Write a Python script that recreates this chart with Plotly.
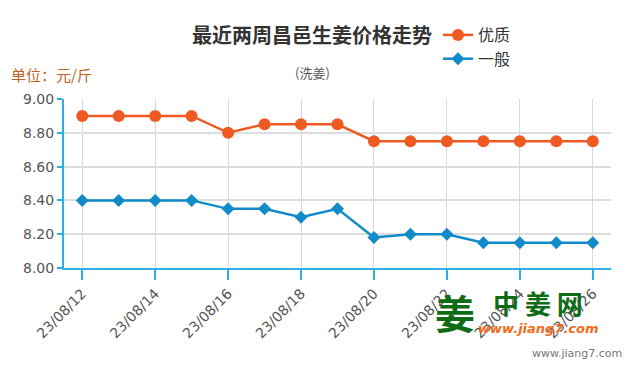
import plotly.graph_objects as go

dates = ["23/08/12", "23/08/13", "23/08/14", "23/08/15", "23/08/16", "23/08/17", "23/08/18",
         "23/08/19", "23/08/20", "23/08/21", "23/08/22", "23/08/23", "23/08/24", "23/08/25", "23/08/26"]
premium = [8.90, 8.90, 8.90, 8.90, 8.80, 8.85, 8.85, 8.85, 8.75, 8.75, 8.75, 8.75, 8.75, 8.75, 8.75]
normal = [8.40, 8.40, 8.40, 8.40, 8.35, 8.35, 8.30, 8.35, 8.18, 8.20, 8.20, 8.15, 8.15, 8.15, 8.15]
y_ticks = [8.0, 8.2, 8.4, 8.6, 8.8, 9.0]

idx = list(range(len(dates)))
tick_idx = idx[::2]
tick_txt = dates[::2]

ORANGE = "#ee5a22"
BLUE = "#128bc8"
AXIS = "#2eb0e4"
FONT = "Noto Sans CJK SC"

L, R, T, B = 64, 611, 99, 268
W, H = R - L, B - T


def px(x):
    return (x - L) / W


def py(y):
    return (B - y) / H


fig = go.Figure()
fig.add_trace(go.Scatter(x=idx, y=premium, name="优质", mode="lines+markers",
                         line=dict(color=ORANGE, width=2.5),
                         marker=dict(symbol="circle", size=12, color=ORANGE)))
fig.add_trace(go.Scatter(x=idx, y=normal, name="一般", mode="lines+markers",
                         line=dict(color=BLUE, width=2.5),
                         marker=dict(symbol="diamond", size=10, color=BLUE)))

fig.update_layout(
    width=635, height=375,
    margin=dict(l=L, r=635 - R, t=T, b=375 - B, autoexpand=False),
    paper_bgcolor="white", plot_bgcolor="white",
    font=dict(family=FONT, color="#555555"),
    showlegend=True,
    legend=dict(x=px(438), y=py(18), xanchor="left", yanchor="top",
                font=dict(size=16, color="#333333", family=FONT),
                bgcolor="rgba(0,0,0,0)", itemwidth=30, tracegroupgap=0),
    xaxis=dict(range=[-0.5, 14.5], tickmode="array", tickvals=tick_idx, ticktext=tick_txt,
               tickangle=-45, showgrid=True, gridcolor="#d9d9d9", gridwidth=1,
               showline=True, linecolor=AXIS, linewidth=2,
               ticks="outside", ticklen=10, tickcolor=AXIS, tickwidth=1.5,
               tickfont=dict(size=14, color="#555555", family="DejaVu Sans"), zeroline=False),
    yaxis=dict(range=[8.0, 9.0], tickmode="array", tickvals=y_ticks,
               ticktext=[f"{v:.2f}" for v in y_ticks],
               showgrid=True, gridcolor="#dddddd", gridwidth=1.5,
               showline=True, linecolor=AXIS, linewidth=2,
               ticks="outside", ticklen=5, tickcolor=AXIS, tickwidth=1.5,
               tickfont=dict(size=14, color="#555555", family="DejaVu Sans"), zeroline=False),
    annotations=[
        dict(text="<b>最近两周昌邑生姜价格走势</b>", xref="paper", yref="paper",
             x=px(312), y=py(34), xanchor="center", yanchor="middle",
             showarrow=False, font=dict(size=20, color="#333333", family=FONT)),
        dict(text="(洗姜)", xref="paper", yref="paper",
             x=px(312), y=py(72), xanchor="center", yanchor="middle",
             showarrow=False, font=dict(size=13, color="#555555", family=FONT)),
        dict(text="单位：元/斤", xref="paper", yref="paper",
             x=px(9), y=py(75), xanchor="left", yanchor="middle",
             showarrow=False, font=dict(size=15, color="#c0601f", family=FONT)),
        dict(text="<b>姜</b>", xref="paper", yref="paper",
             x=px(455), y=py(312), xanchor="center", yanchor="middle",
             showarrow=False, font=dict(size=40, color="#0e6b16", family=FONT)),
        dict(text="<b>中 姜 网</b>", xref="paper", yref="paper",
             x=px(538), y=py(302), xanchor="center", yanchor="middle",
             showarrow=False, font=dict(size=26, color="#0e6b16", family=FONT), borderpad=0),
        dict(text="<i><b>www.jiang7.com</b></i>", xref="paper", yref="paper",
             x=px(538), y=py(328), xanchor="center", yanchor="middle",
             showarrow=False, font=dict(size=13, color="#f06a1a", family="DejaVu Sans"), borderpad=0),
        dict(text="www.jiang7.com", xref="paper", yref="paper",
             x=px(624), y=py(353), xanchor="right", yanchor="middle",
             showarrow=False, font=dict(size=11, color="#777777", family="DejaVu Sans")),
    ],
)

fig.write_html("out.html", config={"displayModeBar": False},
               post_script="document.body.style.margin='0';document.body.style.padding='0';")
